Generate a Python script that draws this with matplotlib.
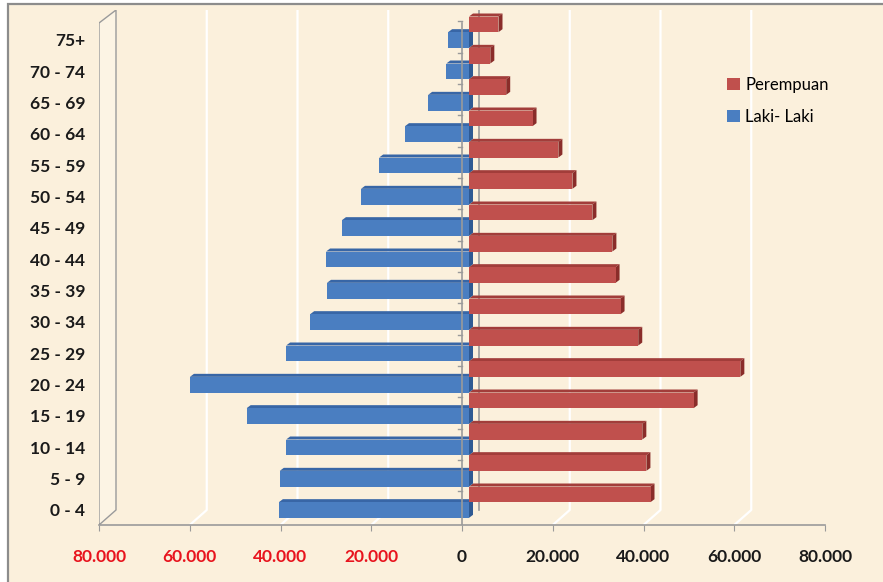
import matplotlib
matplotlib.use("Agg")
import matplotlib.pyplot as plt
from matplotlib.patches import Polygon, Rectangle, Patch

# ---- data ----
categories = ['0 - 4', '5 - 9', '10 - 14', '15 - 19', '20 - 24', '25 - 29', '30 - 34',
              '35 - 39', '40 - 44', '45 - 49', '50 - 54', '55 - 59', '60 - 64',
              '65 - 69', '70 - 74', '75+']
laki = [41900, 41700, 40300, 49000, 61500, 40300, 35000, 31300, 31500,
        28000, 23800, 19800, 14100, 9000, 5000, 4600]
perempuan = [40000, 39100, 38200, 49500, 59800, 37300, 33400, 32300, 31600,
             27200, 22800, 19700, 14000, 8200, 4700, 6500]
x_ticks = [-80000, -60000, -40000, -20000, 0, 20000, 40000, 60000, 80000]

# ---- style ----
W, H = 883, 582
BG = '#FBF0DC'
RED, RED_TOP, RED_SIDE = '#C0504D', '#A23D3A', '#8A2D2A'
BLUE, BLUE_TOP, BLUE_SIDE = '#4A7EC1', '#3866A6', '#2F5A93'
GRID_GRAY = '#9A9A9A'
FONT = 'Lato'

fig = plt.figure(figsize=(W / 100, H / 100), dpi=100)
fig.patch.set_facecolor('white')
fig.patches.append(Rectangle((8 / W, -0.02), 1.0, (H - 4) / H + 0.02,
                             transform=fig.transFigure, facecolor=BG,
                             edgecolor='#8C8C8C', lw=1.6, zorder=-10))

ax_l, ax_r, ax_b, ax_t = 99, 825, 525, 10
ax = fig.add_axes([ax_l / W, (H - ax_b) / H, (ax_r - ax_l) / W, (ax_b - ax_t) / H])
ax.set_facecolor('none')

px_per_cat = (510 - 40) / 15.0
ylo = -(ax_b - 510) / px_per_cat
yhi = 15 + (40 - ax_t) / px_per_cat
ax.set_xlim(-80000, 80000)
ax.set_ylim(ylo, yhi)
xpx = 160000 / (ax_r - ax_l)          # data units per pixel
depth_x = 17 * xpx                     # back-wall offset
depth_y = 15 / px_per_cat
ddx, ddy = 4 * xpx, 3 / px_per_cat     # bar depth
shift = 7 * xpx                        # bars' zero on their plane

# back gridlines (white) with floor diagonals
for t in x_ticks:
    if t == -80000 or t == 0:
        continue
    ax.plot([t, t + depth_x, t + depth_x], [ylo, ylo + depth_y, yhi],
            color='white', lw=1.6, zorder=0.5, solid_capstyle='butt')

# left wall
wx = -80000
wall_top = yhi - 13 / px_per_cat
ax.plot([wx, wx, wx + depth_x, wx + depth_x, wx],
        [ylo, wall_top, yhi, ylo + depth_y, ylo], color=GRID_GRAY, lw=1.0, zorder=1)
ax.fill([wx, wx, wx + depth_x, wx + depth_x], [ylo, wall_top, yhi, ylo + depth_y],
        color='#FCF4E4', zorder=0.6)

# back vertical axis
ax.plot([depth_x, depth_x], [ylo + depth_y, yhi], color=GRID_GRAY, lw=1.2, zorder=1)
# front vertical axis with ticks
ax.plot([0, 0], [ylo, wall_top], color=GRID_GRAY, lw=1.2, zorder=6)
for i in range(len(categories)):
    ax.plot([-4 * xpx, 0], [i + 0.6, i + 0.6], color=GRID_GRAY, lw=1.0, zorder=6)

h = 0.5


def bar3d(y0, x_from, x_to, front, top, side):
    z = 2 + y0 * 0.01
    b = ax.barh([y0], [x_to - x_from], left=[x_from], height=h, color=front,
                edgecolor='none', zorder=z + 0.002)
    yt = y0 + h / 2
    yb = y0 - h / 2
    xa, xb = min(x_from, x_to), max(x_from, x_to)
    ax.add_patch(Polygon([(xa, yt), (xb, yt), (xb + ddx, yt + ddy), (xa + ddx, yt + ddy)],
                         closed=True, facecolor=top, edgecolor='none', zorder=z))
    ax.add_patch(Polygon([(xb, yb), (xb, yt), (xb + ddx, yt + ddy), (xb + ddx, yb + ddy)],
                         closed=True, facecolor=side, edgecolor='none', zorder=z + 0.001))
    return b


for i, (m, f) in enumerate(zip(laki, perempuan)):
    bar3d(i, shift, shift - m, BLUE, BLUE_TOP, BLUE_SIDE)
    bar3d(i + 0.5, shift, shift + f, RED, RED_TOP, RED_SIDE)

# axes styling
for s in ['top', 'right', 'left']:
    ax.spines[s].set_visible(False)
ax.spines['bottom'].set_color(GRID_GRAY)
ax.spines['bottom'].set_linewidth(1.2)
ax.set_xticks(x_ticks)
ax.set_xticklabels([f"{abs(v):,}".replace(',', '.') for v in x_ticks])
ax.tick_params(axis='x', direction='out', length=4, color=GRID_GRAY, pad=13,
               labelsize=12.5)
for lbl, v in zip(ax.get_xticklabels(), x_ticks):
    lbl.set_fontfamily(FONT)
    lbl.set_fontweight('bold')
    lbl.set_color('#E8141E' if v < 0 else '#1A1A1A')

ax.set_yticks(range(len(categories)))
ax.set_yticklabels(categories)
ax.tick_params(axis='y', length=0, pad=10, labelsize=12.5)
for lbl in ax.get_yticklabels():
    lbl.set_fontfamily(FONT)
    lbl.set_fontweight('bold')
    lbl.set_color('#1A1A1A')

handles = [Patch(facecolor=RED, edgecolor='none', label='Perempuan'),
           Patch(facecolor=BLUE, edgecolor='none', label='Laki- Laki')]
fig.legend(handles=handles, loc='upper left', bbox_to_anchor=(712 / W, 1 - 62 / H),
           frameon=False, handlelength=0.75, handleheight=0.75, handletextpad=0.35,
           labelspacing=0.95, prop={'family': FONT, 'size': 12})

fig.savefig('out.png', dpi=100, facecolor=fig.get_facecolor())
